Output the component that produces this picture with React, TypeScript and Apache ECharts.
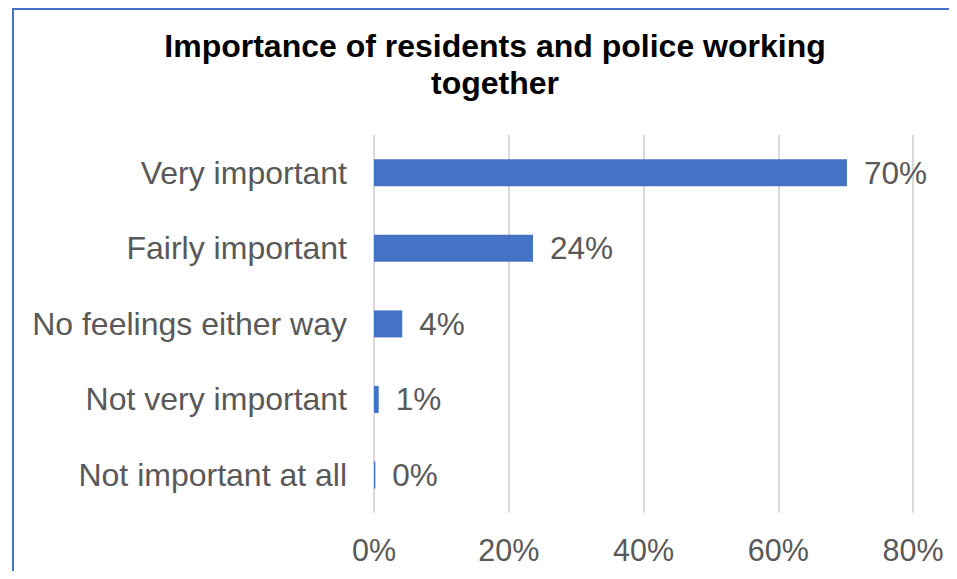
import React, { useEffect, useRef } from "react";
import * as echarts from "echarts";

const titleLines = ["Importance of residents and police working", "together"];
const categories = [
  "Very important",
  "Fairly important",
  "No feelings either way",
  "Not very important",
  "Not important at all",
];
const shares = [70.2, 23.6, 4.2, 0.7, 0.2];
const xTicks = [0, 20, 40, 60, 80];

export default function App() {
  const ref = useRef<HTMLDivElement>(null);
  useEffect(() => {
    if (!ref.current) return;
    const chart = echarts.init(ref.current, null, { renderer: "svg" });
    const font = "'Liberation Sans', Arial, sans-serif";
    chart.setOption({
      animation: false,
      backgroundColor: "#ffffff",
      title: {
        text: titleLines.join("\n"),
        left: 482,
        top: 14,
        textAlign: "center",
        textStyle: {
          fontFamily: font,
          fontSize: 32,
          fontWeight: "bold",
          color: "#000000",
          lineHeight: 37,
        },
      },
      graphic: [
        {
          type: "line",
          shape: { x1: 4, y1: 1, x2: 949, y2: 1 },
          style: { stroke: "#4472C4", lineWidth: 2 },
          silent: true,
        },
        {
          type: "line",
          shape: { x1: 5, y1: 0, x2: 5, y2: 571 },
          style: { stroke: "#4472C4", lineWidth: 2 },
          silent: true,
        },
      ],
      grid: { left: 366, right: 44, top: 127, bottom: 66.2, containLabel: false },
      xAxis: {
        type: "value",
        min: xTicks[0],
        max: xTicks[xTicks.length - 1],
        interval: 20,
        axisLine: { show: false },
        axisTick: { show: false },
        splitLine: { show: true, lineStyle: { color: "#d9d9d9", width: 2 } },
        axisLabel: {
          formatter: (v: number) => `${v}%`,
          fontFamily: font,
          fontSize: 30.5,
          color: "#595959",
          margin: 22,
        },
      },
      yAxis: {
        type: "category",
        data: categories,
        inverse: true,
        axisLine: { show: false },
        axisTick: { show: false },
        axisLabel: {
          fontFamily: font,
          fontSize: 32,
          color: "#595959",
          margin: 27,
        },
      },
      series: [
        {
          type: "bar",
          data: shares,
          barWidth: 27,
          itemStyle: { color: "#4472C4" },
          label: {
            show: true,
            position: "right",
            distance: 17,
            formatter: (p: any) => `${Math.round(p.value)}%`,
            fontFamily: font,
            fontSize: 31.5,
            color: "#595959",
          },
        },
      ],
    });
    return () => chart.dispose();
  }, []);
  return (
    <div
      ref={ref}
      style={{ width: 949, height: 571, marginBottom: -8 }}
    />
  );
}
